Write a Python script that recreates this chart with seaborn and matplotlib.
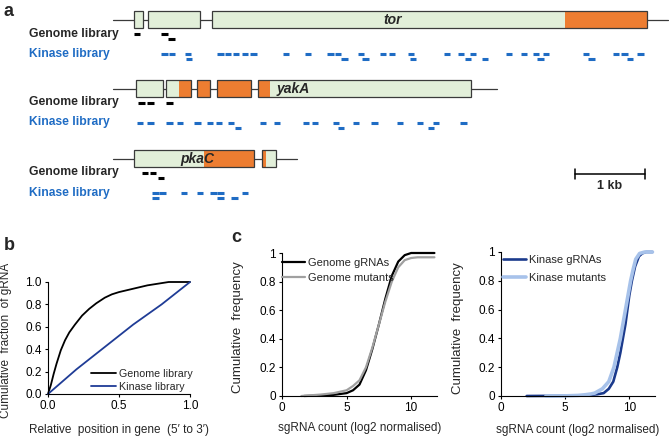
import numpy as np
import pandas as pd
import matplotlib
matplotlib.use("Agg")
import matplotlib.pyplot as plt
from matplotlib.patches import Rectangle
import seaborn as sns

# ---- panel a: gene models, positions in kb from the left end of each drawn locus
tor_len = 7.93
tor_exons = [(0.30, 0.43), (0.50, 1.24), (1.41, 7.63)]
tor_domain = [(6.46, 7.63)]
tor_genome = [0.30, 0.69]
tor_genome_low = [0.79]
tor_kinase = [0.69, 0.80, 1.03, 1.49, 1.60, 1.71, 1.84, 1.96, 2.43, 2.74, 3.06, 3.17, 3.50,
              3.81, 3.94, 4.21, 4.73, 4.93, 5.10, 5.61, 5.83, 6.00, 6.14, 6.71, 7.14, 7.26, 7.49]
tor_kinase_low = [1.04, 3.26, 3.56, 4.24, 5.03, 5.27, 6.06, 6.79, 7.34]

yak_len = 5.49
yak_exons = [(0.33, 0.71), (0.76, 1.11), (1.20, 1.39), (1.49, 1.97), (2.07, 5.11)]
yak_domain = [(0.94, 1.11), (1.20, 1.39), (1.49, 1.97), (2.07, 2.24)]
yak_genome = [0.36, 0.49, 0.76]
yak_genome_low = []
yak_kinase = [0.34, 0.49, 0.76, 0.91, 1.16, 1.34, 1.47, 1.64, 2.10, 2.30, 2.71, 2.84, 3.14,
              3.43, 3.69, 4.06, 4.34, 4.57, 4.96]
yak_kinase_low = [1.74, 3.21, 4.50]

pka_len = 2.63
pka_exons = [(0.30, 2.01), (2.13, 2.33)]
pka_domain = [(1.30, 2.01), (2.13, 2.19)]
pka_genome = [0.41, 0.53]
pka_genome_low = [0.64]
pka_kinase = [0.56, 0.66, 0.97, 1.20, 1.39, 1.49, 1.84]
pka_kinase_low = [0.56, 1.49, 1.69]

# ---- panel b: cumulative fraction of gRNA vs relative position
b_genome_x = [0, 0.01, 0.02, 0.04, 0.06, 0.09, 0.12, 0.15, 0.19, 0.24, 0.29, 0.34, 0.40, 0.45,
              0.50, 0.60, 0.70, 0.80, 0.85, 1.0]
b_genome_y = [0, 0.04, 0.08, 0.18, 0.27, 0.39, 0.48, 0.55, 0.62, 0.70, 0.76, 0.81, 0.86, 0.89,
              0.91, 0.94, 0.97, 0.99, 1.0, 1.0]
b_kinase_x = [0, 0.1, 0.2, 0.3, 0.4, 0.5, 0.6, 0.7, 0.8, 0.9, 1.0]
b_kinase_y = [0, 0.11, 0.22, 0.32, 0.42, 0.52, 0.62, 0.71, 0.80, 0.90, 1.0]

# ---- panel c: cumulative frequency of sgRNA counts
gg_x = [1.7, 3, 4, 5, 5.5, 6, 6.5, 7, 7.5, 8, 8.5, 9, 9.5, 10, 10.5, 11.8]
gg_y = [0, 0.003, 0.008, 0.02, 0.04, 0.08, 0.18, 0.33, 0.5, 0.68, 0.84, 0.94, 0.985, 1.0, 1.0, 1.0]
gm_x = [1.5, 3, 4, 5, 5.5, 6, 6.5, 7, 7.5, 8, 8.5, 9, 9.5, 10, 10.5, 11, 11.8]
gm_y = [0, 0.01, 0.02, 0.04, 0.07, 0.11, 0.2, 0.34, 0.5, 0.66, 0.8, 0.9, 0.95, 0.965, 0.97, 0.97, 0.97]
kg_x = [2.0, 4, 6, 7, 7.5, 8.0, 8.4, 8.75, 9.06, 9.3, 9.5, 9.7, 9.85, 10.0, 10.2, 10.45, 10.75,
        11.0, 11.3, 11.8]
kg_y = [0, 0.001, 0.003, 0.008, 0.012, 0.02, 0.05, 0.1, 0.2, 0.3, 0.4, 0.5, 0.6, 0.7, 0.8, 0.9,
        0.97, 0.99, 1.0, 1.0]
km_x = [3.5, 5, 6, 6.5, 7.0, 7.3, 7.9, 8.4, 8.8, 9.05, 9.3, 9.5, 9.7, 9.9, 10.1, 10.3, 10.5,
        10.8, 11.2, 11.8]
km_y = [0, 0.001, 0.004, 0.008, 0.014, 0.02, 0.05, 0.1, 0.2, 0.3, 0.4, 0.5, 0.6, 0.7, 0.8, 0.88,
        0.95, 0.99, 1.0, 1.0]

sns.set_style("ticks")
plt.rcParams['font.family'] = ['Liberation Sans', 'DejaVu Sans']
plt.rcParams['axes.linewidth'] = 0.8
plt.rcParams['xtick.major.size'] = 2.5
plt.rcParams['ytick.major.size'] = 2.5
plt.rcParams['xtick.major.width'] = 0.8
plt.rcParams['ytick.major.width'] = 0.8
plt.rcParams['xtick.color'] = 'black'
plt.rcParams['ytick.color'] = 'black'
plt.rcParams['axes.edgecolor'] = 'black'

W, H = 669, 437
fig = plt.figure(figsize=(W / 100, H / 100), dpi=100)

exon_col = '#e2efd9'
dom_col = '#ed7d31'
edge_col = '#3a3a3a'
blue_txt = '#1f6cc4'
box_h = 17
dash = 0.09

# panel a axes: 1 kb = 70 px, locus starts at px 113
ax_a = fig.add_axes([0, 1 - 215 / H, 1, 215 / H])
ax_a.set_xlim(-113 / 70, (W - 113) / 70)
ax_a.set_ylim(215, 0)
ax_a.axis('off')


def draw_locus(ax, y, length, exons, domains, name, name_x, gen, gen_low, kin, kin_low):
    ax.plot([0, length], [y, y], color=edge_col, lw=0.9, zorder=1)
    for s, e in exons:
        ax.add_patch(Rectangle((s, y - box_h / 2), e - s, box_h, facecolor=exon_col,
                               edgecolor='none', zorder=2))
    for s, e in domains:
        ax.add_patch(Rectangle((s, y - box_h / 2), e - s, box_h, facecolor=dom_col,
                               edgecolor='none', zorder=3))
    for s, e in exons:
        ax.add_patch(Rectangle((s, y - box_h / 2), e - s, box_h, facecolor='none',
                               edgecolor=edge_col, lw=0.9, zorder=4))
    ax.text(name_x, y + 0.5, name, fontsize=10, fontweight='bold', style='italic',
            ha='center', va='center', zorder=5)
    ax.text(-1.2, y + 14, 'Genome library', fontsize=8.7, fontweight='bold', va='center')
    ax.text(-1.2, y + 34, 'Kinase library', fontsize=8.7, fontweight='bold', va='center',
            color=blue_txt)
    for xs, yy, c in [(gen, y + 14, 'black'), (gen_low, y + 19, 'black'),
                      (kin, y + 34, blue_txt), (kin_low, y + 39, blue_txt)]:
        if len(xs):
            xs = np.array(xs)
            ax.hlines([yy] * len(xs), xs, xs + dash, colors=c, lw=2.2)


draw_locus(ax_a, 19.5, tor_len, tor_exons, tor_domain, 'tor', 3.99,
           tor_genome, tor_genome_low, tor_kinase, tor_kinase_low)
draw_locus(ax_a, 88.5, yak_len, yak_exons, yak_domain, 'yakA', 2.57,
           yak_genome, yak_genome_low, yak_kinase, yak_kinase_low)
draw_locus(ax_a, 158.5, pka_len, pka_exons, pka_domain, 'pkaC', 1.2,
           pka_genome, pka_genome_low, pka_kinase, pka_kinase_low)

# scale bar 1 kb
sb0 = 6.6
ax_a.plot([sb0, sb0 + 1], [174, 174], color='black', lw=1.1)
ax_a.plot([sb0, sb0], [169, 179], color='black', lw=1.1)
ax_a.plot([sb0 + 1, sb0 + 1], [169, 179], color='black', lw=1.1)
ax_a.text(sb0 + 0.5, 186, '1 kb', fontsize=9, fontweight='bold', ha='center', va='center')

# ---- panel b
ax_b = fig.add_axes([48 / W, 1 - 394 / H, 142 / W, 112 / H])
sns.lineplot(x=b_genome_x, y=b_genome_y, ax=ax_b, color='black', lw=1.3,
             label='Genome library', clip_on=False)
sns.lineplot(x=b_kinase_x, y=b_kinase_y, ax=ax_b, color='#1f3c96', lw=1.3,
             label='Kinase library', clip_on=False)
ax_b.set_xlim(0, 1)
ax_b.set_ylim(0, 1)
ax_b.set_xticks([0, 0.5, 1.0])
ax_b.set_xticklabels(['0.0', '0.5', '1.0'])
ax_b.set_yticks(np.arange(0, 1.01, 0.2))
ax_b.set_yticklabels(['0.0', '0.2', '0.4', '0.6', '0.8', '1.0'])
ax_b.tick_params(labelsize=8.5, pad=2)
ax_b.set_xlabel("Relative  position in gene  (5\u2032 to 3\u2032)", fontsize=8.5)
ax_b.set_ylabel("Cumulative  fraction  of gRNA", fontsize=8.5)
ax_b.xaxis.set_label_coords(0.5, -0.265)
ax_b.yaxis.set_label_coords(-0.25, 0.48)
ax_b.legend(loc='lower right', bbox_to_anchor=(1.02, 0.02), frameon=False, fontsize=7.7,
            handlelength=2.3, handletextpad=0.3, labelspacing=0.3, borderpad=0,
            borderaxespad=0)
sns.despine(ax=ax_b)

# ---- panel c
ax_c1 = fig.add_axes([282 / W, 1 - 396 / H, 155 / W, 143 / H])
sns.lineplot(x=gg_x, y=gg_y, ax=ax_c1, color='black', lw=1.6, label='Genome gRNAs',
             clip_on=False)
sns.lineplot(x=gm_x, y=gm_y, ax=ax_c1, color='#a0a0a0', lw=1.6, label='Genome mutants',
             clip_on=False)
ax_c1.set_ylabel("Cumulative  frequency", fontsize=9.5)
ax_c1.yaxis.set_label_coords(-0.245, 0.48)
ax_c1.xaxis.set_label_coords(0.46, -0.18)
ax_c1.legend(loc='upper left', bbox_to_anchor=(0.0, 0.965), frameon=False, fontsize=8,
             handlelength=2.1, handletextpad=0.25, labelspacing=0.45, borderpad=0,
             borderaxespad=0)

ax_c2 = fig.add_axes([501 / W, 1 - 396 / H, 154 / W, 144 / H])
sns.lineplot(x=kg_x, y=kg_y, ax=ax_c2, color='#1b3a8c', lw=1.9, label='Kinase gRNAs',
             clip_on=False)
sns.lineplot(x=km_x, y=km_y, ax=ax_c2, color='#a7c2ea', lw=2.6, label='Kinase mutants',
             clip_on=False)
ax_c2.set_ylabel("Cumulative  frequency", fontsize=9.5)
ax_c2.yaxis.set_label_coords(-0.24, 0.47)
ax_c2.xaxis.set_label_coords(0.47, -0.195)
ax_c2.legend(loc='upper left', bbox_to_anchor=(0.01, 0.98), frameon=False, fontsize=8,
             handlelength=2.1, handletextpad=0.25, labelspacing=0.7, borderpad=0,
             borderaxespad=0)

for ax in (ax_c1, ax_c2):
    ax.set_xlim(0, 12)
    ax.set_ylim(0, 1)
    ax.set_xticks([0, 5, 10])
    ax.set_yticks([0, 0.2, 0.4, 0.6, 0.8, 1.0])
    ax.set_yticklabels(['0', '0.2', '0.4', '0.6', '0.8', '1'])
    ax.tick_params(labelsize=8.5, pad=2)
    ax.set_xlabel("sgRNA count (log2 normalised)", fontsize=8.5)
    sns.despine(ax=ax)

fig.text(4 / W, 1 - 12 / H, 'a', fontsize=13, fontweight='bold', va='center')
fig.text(4 / W, 1 - 245 / H, 'b', fontsize=13, fontweight='bold', va='center')
fig.text(231 / W, 1 - 238 / H, 'c', fontsize=13, fontweight='bold', va='center')

fig.savefig('out.png', dpi=100)
